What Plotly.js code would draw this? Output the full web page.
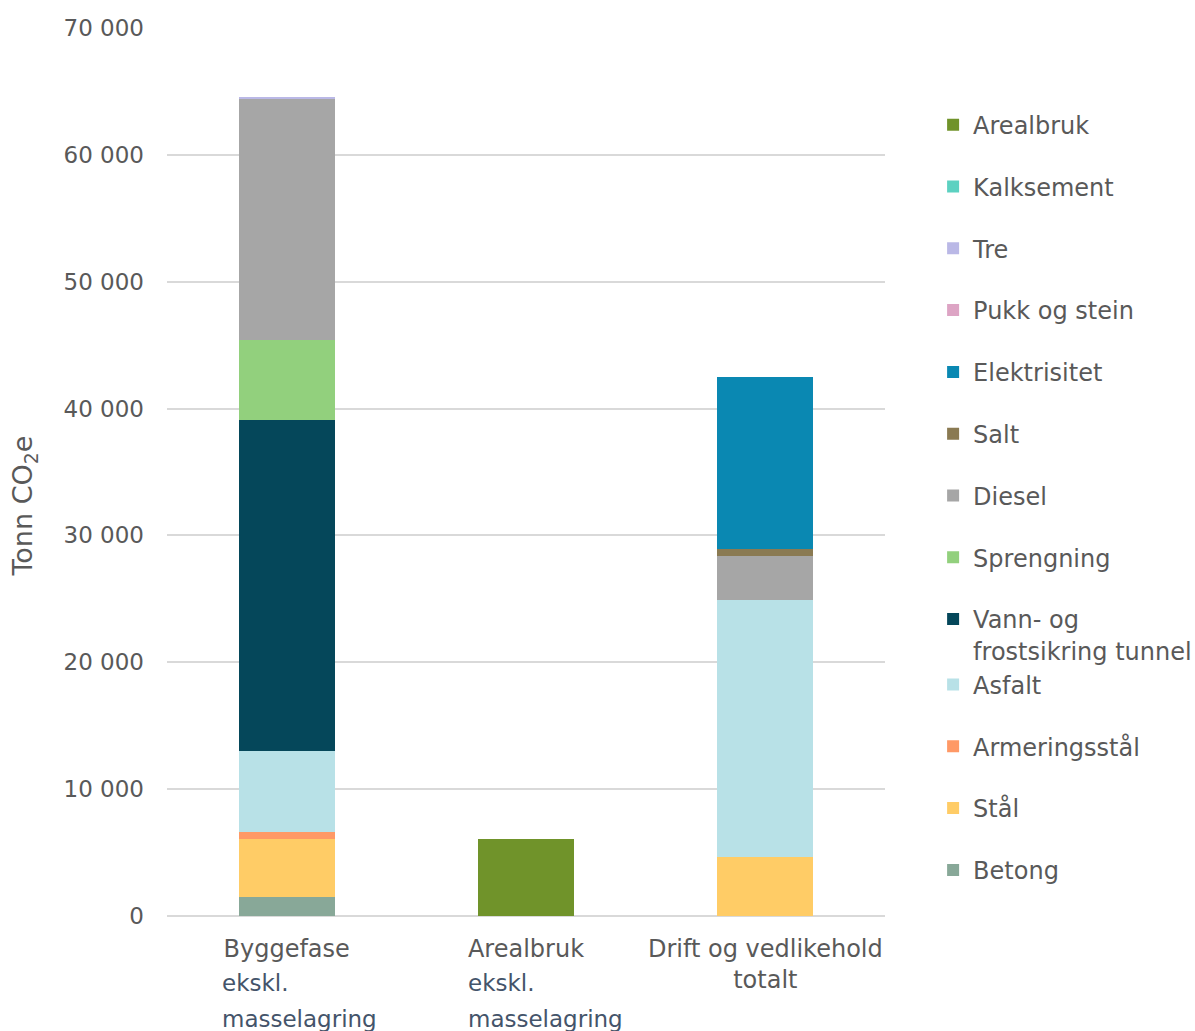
<!DOCTYPE html>
<html>
<head>
<meta charset="utf-8">
<script src="https://cdn.plot.ly/plotly-3.0.1.min.js"></script>
<style>
  html, body { margin: 0; padding: 0; background: #ffffff; }
  #chart { width: 1195px; height: 1031px; }
</style>
</head>
<body>
<div id="chart"></div>
<script>
// Categories (x axis) and their tick texts
const categories = ["Byggefase ekskl. masselagring", "Arealbruk ekskl. masselagring", "Drift og vedlikehold totalt"];
const tickLabels = ["Byggefase", "Arealbruk", "Drift og vedlikehold<br>totalt"];
const subLabel = ["ekskl.", "masselagring"];

// Emissions per source, tonn CO2e, one value per category
const betong        = [1500, 0, 0];
const staal         = [4600, 0, 4650];
const armeringsstaal = [500, 0, 0];
const asfalt        = [6400, 0, 20250];
const vannFrost     = [26100, 0, 0];
const sprengning    = [6300, 0, 0];
const diesel        = [19000, 0, 3450];
const salt          = [0, 0, 600];
const elektrisitet  = [0, 0, 13500];
const pukkStein     = [0, 0, 0];
const tre           = [150, 0, 0];
const kalksement    = [0, 0, 0];
const arealbruk     = [0, 6100, 0];

const yTicks = [0, 10000, 20000, 30000, 40000, 50000, 60000, 70000];

// Stack order, bottom to top
const series = [
  { name: "Betong", y: betong, color: "#88A898" },
  { name: "Stål", y: staal, color: "#FFCC66" },
  { name: "Armeringsstål", y: armeringsstaal, color: "#FF9966" },
  { name: "Asfalt", y: asfalt, color: "#B8E1E7", group: "vann" },
  { name: "Vann- og<br>frostsikring tunnel", y: vannFrost, color: "#05475A", group: "vann" },
  { name: "Sprengning", y: sprengning, color: "#92D07D" },
  { name: "Diesel", y: diesel, color: "#A6A6A6" },
  { name: "Salt", y: salt, color: "#8A7A52" },
  { name: "Elektrisitet", y: elektrisitet, color: "#0A88B2" },
  { name: "Pukk og stein", y: pukkStein, color: "#DDA4C4" },
  { name: "Tre", y: tre, color: "#BAB8E6" },
  { name: "Kalksement", y: kalksement, color: "#5CD1C1" },
  { name: "Arealbruk", y: arealbruk, color: "#70932A" }
];

// Legend lists the top of the stack first
const traces = series.map((s, i) => ({
  type: "bar",
  name: s.name,
  x: categories,
  y: s.y,
  width: 0.4,
  legendgroup: s.group || ("g" + i),
  legendrank: 1000 - i * 10,
  marker: { color: s.color, line: { width: 0 } },
  hoverinfo: "name+y"
}));

const textColor = "#595959";
const fontFamily = "DejaVu Sans, Verdana, sans-serif";

const annotations = [];
[0, 1].forEach((ci, k) => {
  const shift = k === 0 ? -67 : -60;
  [[subLabel[0], -0.0755], [subLabel[1], -0.116]].forEach(([txt, yp]) => {
    annotations.push({
      text: txt, x: categories[ci], xref: "x", xshift: shift,
      y: yp, yref: "paper", xanchor: "left", yanchor: "middle",
      showarrow: false, align: "left",
      font: { family: fontFamily, size: 23, color: "#44546A" }
    });
  });
});
annotations.push({
  text: "Tonn CO<sub>2</sub>e", textangle: -90,
  x: -0.198, xref: "paper", xanchor: "center",
  y: 0.462, yref: "paper", yanchor: "middle",
  showarrow: false,
  font: { family: fontFamily, size: 27, color: textColor }
});

const layout = {
  width: 1195,
  height: 1031,
  margin: { l: 167, r: 310, t: 28, b: 115, autoexpand: false },
  paper_bgcolor: "#ffffff",
  plot_bgcolor: "#ffffff",
  barmode: "stack",
  separators: ", ",
  font: { family: fontFamily, size: 23, color: textColor },
  showlegend: true,
  legend: {
    x: 1.067, xanchor: "left",
    y: 0.916, yanchor: "top",
    traceorder: "grouped",
    tracegroupgap: 27.6,
    valign: "top",
    font: { family: fontFamily, size: 24, color: textColor },
    bgcolor: "rgba(0,0,0,0)"
  },
  xaxis: {
    type: "category",
    range: [-0.5, 2.5],
    tickvals: categories,
    ticktext: tickLabels,
    showgrid: false,
    showline: false,
    ticks: "",
    ticklabelstandoff: 16,
    tickfont: { family: fontFamily, size: 24, color: textColor }
  },
  yaxis: {
    range: [0, 70000],
    tickvals: yTicks,
    tickformat: ",d",
    showgrid: true,
    gridcolor: "#d9d9d9",
    gridwidth: 2,
    zeroline: true,
    zerolinecolor: "#d9d9d9",
    zerolinewidth: 2,
    ticks: "",
    ticklabelstandoff: 22,
    tickfont: { family: fontFamily, size: 23, color: textColor }
  },
  annotations: annotations
};

Plotly.newPlot("chart", traces, layout, { displayModeBar: false, staticPlot: true });
</script>
</body>
</html>
